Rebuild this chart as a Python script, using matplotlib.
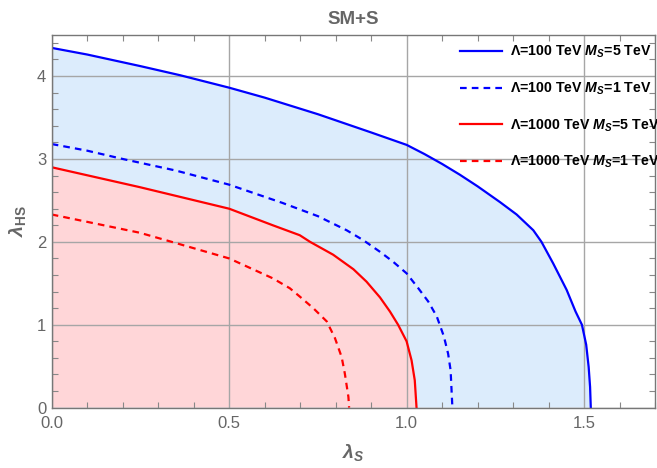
import numpy as np
import matplotlib
matplotlib.use("Agg")
import matplotlib.pyplot as plt
from matplotlib.ticker import MultipleLocator

plt.rcParams['font.family'] = ['Liberation Sans', 'DejaVu Sans']
plt.rcParams['mathtext.fontset'] = 'custom'
plt.rcParams['mathtext.it'] = 'Liberation Sans:italic:bold'
plt.rcParams['mathtext.rm'] = 'Liberation Sans:bold'
plt.rcParams['mathtext.bf'] = 'Liberation Sans:bold'

# ---- data ----
blue_solid_x = [0.0, 0.1, 0.25, 0.362, 0.5, 0.6, 0.75, 0.9, 1.0, 1.05, 1.1, 1.15, 1.2,
                1.263, 1.310, 1.357, 1.380, 1.413, 1.451, 1.476, 1.494, 1.506, 1.513,
                1.517, 1.519]
blue_solid_y = [4.34, 4.26, 4.12, 4.01, 3.86, 3.74, 3.54, 3.32, 3.17, 3.06, 2.94, 2.81,
                2.67, 2.48, 2.33, 2.14, 2.0, 1.74, 1.42, 1.16, 1.0, 0.76, 0.49,
                0.25, 0.0]

blue_dash_x = [0.0, 0.1, 0.2, 0.35, 0.5, 0.65, 0.75, 0.831, 0.878, 0.925, 0.962, 1.0,
               1.033, 1.061, 1.085, 1.105, 1.117, 1.124, 1.129]
blue_dash_y = [3.18, 3.10, 3.0, 2.86, 2.69, 2.47, 2.31, 2.14, 2.02, 1.88, 1.76, 1.62,
               1.44, 1.28, 1.10, 0.86, 0.65, 0.45, 0.0]

red_solid_x = [0.0, 0.248, 0.5, 0.623, 0.699, 0.728, 0.793, 0.850, 0.887, 0.925, 0.953,
               0.976, 1.0, 1.014, 1.023, 1.028]
red_solid_y = [2.90, 2.66, 2.40, 2.20, 2.08, 2.0, 1.845, 1.67, 1.52, 1.33, 1.16,
               1.0, 0.80, 0.57, 0.33, 0.0]

red_dash_x = [0.0, 0.248, 0.338, 0.5, 0.623, 0.671, 0.699, 0.737, 0.775, 0.798, 0.817,
              0.826, 0.836, 0.838]
red_dash_y = [2.33, 2.11, 2.0, 1.80, 1.56, 1.44, 1.34, 1.20, 1.04, 0.84, 0.61,
              0.41, 0.13, 0.0]

labels = ['Λ=100 TeV $M_S$=5 TeV', 'Λ=100 TeV $M_S$=1 TeV',
          'Λ=1000 TeV $M_S$=5 TeV', 'Λ=1000 TeV $M_S$=1 TeV']

x_ticks = [0.0, 0.5, 1.0, 1.5]
y_ticks = [0, 1, 2, 3, 4]

GRAY = '#666666'
fig = plt.figure(figsize=(6.57, 4.68), dpi=100)
ax = fig.add_axes([0.0787, 0.129, 0.9183, 0.797])

# fills
ax.fill([0.0] + blue_solid_x, [0.0] + blue_solid_y, color='#dcecfc', lw=0, zorder=1)
ax.fill([0.0] + red_solid_x, [0.0] + red_solid_y, color='#ffd6d8', lw=0, zorder=1.5)

dash = (0, (3.0, 2.3))
ax.plot(blue_solid_x, blue_solid_y, color='#0000ff', lw=1.6, zorder=3, label=labels[0])
ax.plot(blue_dash_x, blue_dash_y, color='#0000ff', lw=1.6, ls=dash, zorder=3, label=labels[1])
ax.plot(red_solid_x, red_solid_y, color='#ff0000', lw=1.6, zorder=3, label=labels[2])
ax.plot(red_dash_x, red_dash_y, color='#ff0000', lw=1.6, ls=dash, zorder=3, label=labels[3])

ax.set_xlim(0, 1.7)
ax.set_ylim(0, 4.5)
ax.set_xticks(x_ticks)
ax.set_xticklabels([f'{v:.1f}' for v in x_ticks])
ax.set_yticks(y_ticks)
ax.xaxis.set_minor_locator(MultipleLocator(0.1))
ax.yaxis.set_minor_locator(MultipleLocator(0.2))
ax.grid(True, which='major', color='#a6a6a6', lw=1.0, zorder=2)
ax.set_axisbelow(False)
for g in ax.get_xgridlines() + ax.get_ygridlines():
    g.set_zorder(2)

ax.tick_params(which='both', direction='in', top=True, right=True, colors='#888888',
               labelcolor=GRAY, labelsize=12)
ax.tick_params(which='major', length=0, width=1, pad=6)
ax.tick_params(which='minor', length=4, width=0.8)
ax.tick_params(axis='y', which='major', pad=4)
for s in ax.spines.values():
    s.set_color('#777777')
    s.set_linewidth(1.0)
    s.set_zorder(4)

ax.set_title('SM+S', fontsize=13.5, fontweight='bold', color=GRAY, pad=8)
ax.set_xlabel(r'$\lambda_S$', fontsize=14, color=GRAY, labelpad=8)
ax.set_ylabel(r'$\lambda_{\mathrm{HS}}$', fontsize=14, color=GRAY, labelpad=6)

leg = ax.legend(loc='upper left', bbox_to_anchor=(460 / 657, 1 - 44 / 468),
                bbox_transform=fig.transFigure, frameon=False,
                prop={'weight': 'bold', 'size': 10.2}, handlelength=2.96,
                handletextpad=0.56, labelspacing=1.43, borderpad=0, borderaxespad=0)
leg.set_zorder(5)

fig.savefig('out.png', dpi=100)
